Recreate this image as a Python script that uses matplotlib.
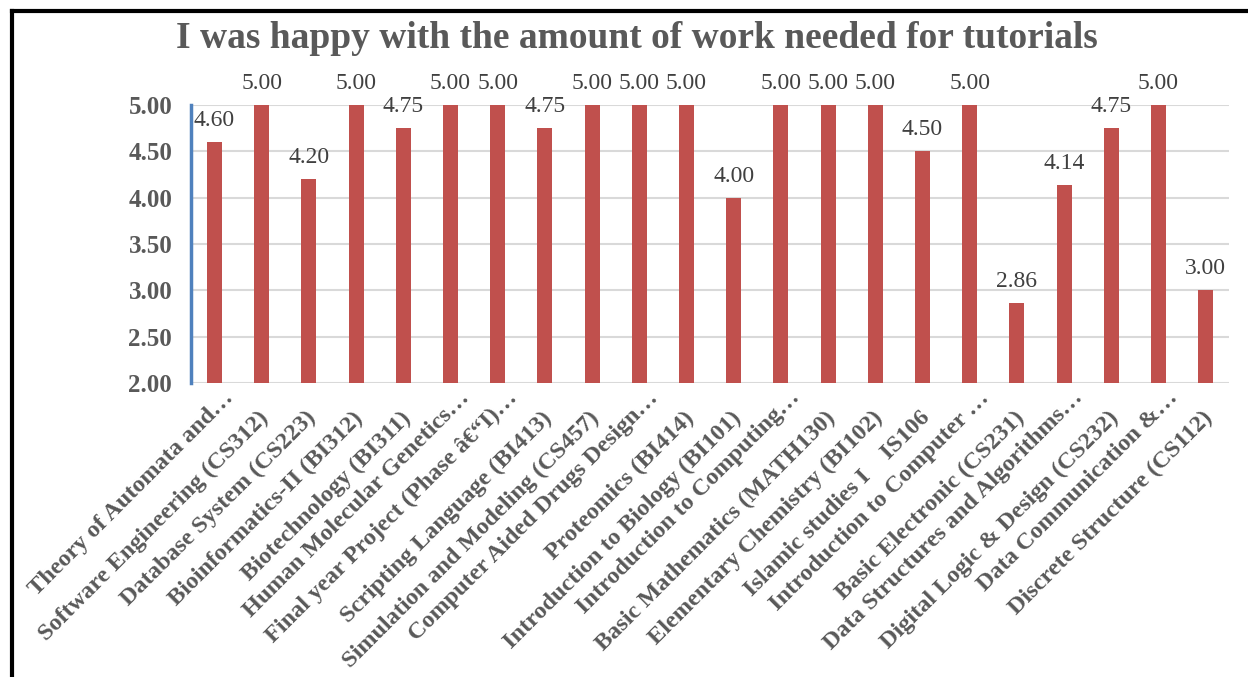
import matplotlib
matplotlib.use("Agg")
import matplotlib.pyplot as plt
from matplotlib.lines import Line2D
from matplotlib.transforms import ScaledTranslation

courses = [
    "Theory of Automata and\u2026",
    "Software Engineering (CS312)",
    "Database System (CS223)",
    "Bioinformatics-II (BI312)",
    "Biotechnology (BI311)",
    "Human Molecular Genetics\u2026",
    "Final year Project (Phase \u00e2\u20ac\u201cI)\u2026",
    "Scripting Language (BI413)",
    "Simulation and Modeling (CS457)",
    "Computer Aided Drugs Design\u2026",
    "Proteomics (BI414)",
    "Introduction to Biology (BI101)",
    "Introduction to Computing\u2026",
    "Basic Mathematics (MATH130)",
    "Elementary Chemistry (BI102)",
    "Islamic studies I    IS106",
    "Introduction to Computer \u2026",
    "Basic Electronic (CS231)",
    "Data Structures and Algorithms\u2026",
    "Digital Logic & Design (CS232)",
    "Data Communication &\u2026",
    "Discrete Structure (CS112)",
]
scores = [4.60, 5.00, 4.20, 5.00, 4.75, 5.00, 5.00, 4.75, 5.00, 5.00, 5.00,
          4.00, 5.00, 5.00, 5.00, 4.50, 5.00, 2.86, 4.14, 4.75, 5.00, 3.00]
yticks = [2.00, 2.50, 3.00, 3.50, 4.00, 4.50, 5.00]

plt.rcParams['font.family'] = ['Liberation Serif', 'DejaVu Serif']

fig = plt.figure(figsize=(12.48, 6.77), dpi=100)
ax = fig.add_axes([0.153, 0.4343, 0.832, 0.4107])

x = range(len(courses))
bars = ax.bar(x, scores, width=0.32, color="#C0504D", zorder=3)
ax.bar_label(bars, fmt="%.2f", padding=8, fontsize=17, color="#404040")

ax.set_xlim(-0.5, len(courses) - 0.5)
ax.set_ylim(2, 5)
ax.set_yticks(yticks)
ax.set_yticklabels([f"{v:.2f}" for v in yticks], fontsize=18,
                   fontweight="bold", color="#595959")
ax.yaxis.grid(True, color="#D9D9D9", linewidth=1.5, zorder=0)
ax.tick_params(axis="both", length=0)
ax.tick_params(axis="y", pad=13.5)

ax.set_xticks(list(x))
ax.set_xticklabels(courses, rotation=45, ha="right", va="center",
                   rotation_mode="anchor", fontsize=17.5, fontweight="bold",
                   color="#595959")
# truncated labels sit further up-right, like in Excel
for lab, name in zip(ax.get_xticklabels(), courses):
    if name.endswith("\u2026"):
        dx, dy = 16, -7
    else:
        dx, dy = 4, -27
    lab.set_transform(lab.get_transform() +
                      ScaledTranslation(dx / 100, dy / 100, fig.dpi_scale_trans))

for side in ["top", "right", "bottom"]:
    ax.spines[side].set_visible(False)
ax.spines["left"].set_color("#4F81BD")
ax.spines["left"].set_linewidth(2.5)
ax.spines["left"].set_zorder(4)

fig.text(637 / 1248, 1 - 48 / 677,
         "I was happy with the amount of work needed for tutorials",
         ha="center", va="baseline", fontsize=27, fontweight="bold",
         color="#595959")

# outer frame (top and left edges only)
fig.add_artist(Line2D([12 / 1248, 1], [1 - 11 / 677, 1 - 11 / 677],
                      transform=fig.transFigure, color="black", linewidth=3))
fig.add_artist(Line2D([12 / 1248, 12 / 1248], [0, 1 - 11 / 677],
                      transform=fig.transFigure, color="black", linewidth=3))

fig.savefig("out.png", dpi=100, facecolor="white")
